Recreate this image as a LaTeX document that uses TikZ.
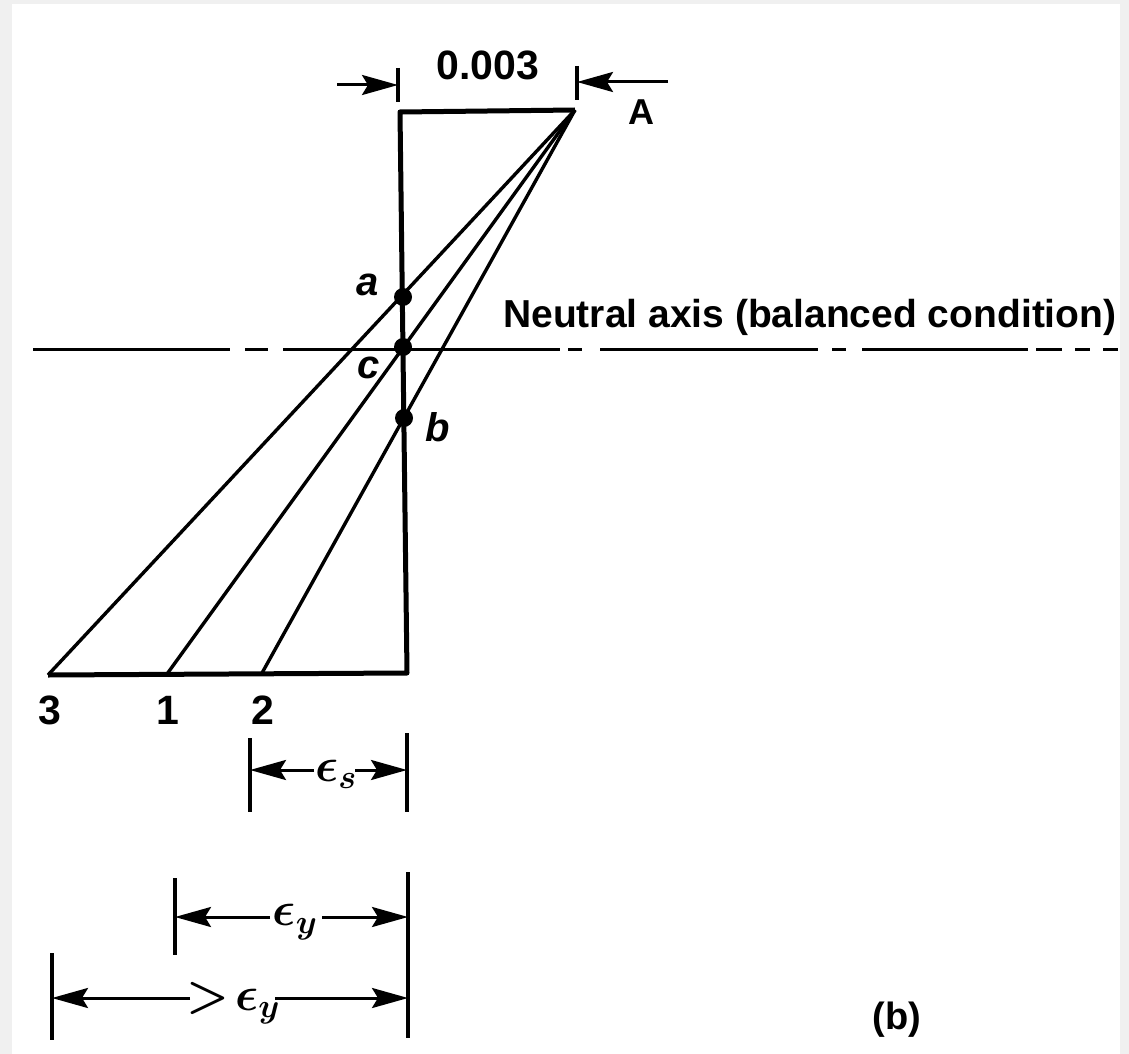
\RequirePackage{fix-cm}
\documentclass[tikz,border=0pt]{standalone}
\usepackage{fontspec}
\setmainfont{Liberation Sans}
\usetikzlibrary{arrows.meta}
\begin{document}
\begin{tikzpicture}[x=1pt,y=-1pt,
  thickline/.style={line width=5pt, line join=round},
  thinline/.style={line width=3.4pt},
  dimline/.style={line width=3pt},
  tickline/.style={line width=3.6pt},
  arr/.style={dimline,-{Stealth[length=36pt,width=20pt,inset=6pt]}},
  lbl/.style={font=\fontsize{39}{42}\selectfont\bfseries, inner sep=0pt},
  ilbl/.style={font=\fontsize{40}{44}\selectfont\bfseries\itshape, inner sep=0pt},
  eps/.style={font=\fontsize{48}{52}\selectfont\boldmath, inner sep=0pt},
  dot/.style={circle, fill, inner sep=0pt, minimum size=18pt}
]
% background
\fill[black!6] (0,0) rectangle (1129,1054);
\fill[white] (12,4) rectangle (1120,1054);
\useasboundingbox (0,0) rectangle (1129,1054);

% strain diagram
\coordinate (TL) at (400,112);
\coordinate (A) at (575,110);
\coordinate (BR) at (407,673);
\coordinate (P3) at (48,675);
\coordinate (P1) at (167,674);
\coordinate (P2) at (262,673);
\draw[thickline] (A) -- (TL) -- (BR) -- (P3);
\draw[thinline] (A) -- (P3);
\draw[thinline] (A) -- (P1);
\draw[thinline] (A) -- (P2);

% neutral axis
\coordinate (NL) at (33,349);
\coordinate (NR) at (1129,349);
\draw[line width=3pt, dash pattern=on 197pt off 15pt on 23pt off 15pt on 277pt off 8pt on 14pt off 18pt on 218pt off 14pt on 14pt off 16pt on 166pt off 8pt on 26pt off 13pt on 15pt off 13pt on 15pt off 40pt] (NL) -- (NR);
\node[lbl, anchor=base west] (nat) at (503,327) {Neutral axis (balanced condition)};

% dots and labels
\node[dot] (a) at (403,297) {};
\node[dot] (c) at (403,347) {};
\node[dot] (b) at (404,418) {};
\node[ilbl] (la) at (368,285) {a};
\node[ilbl] (lc) at (369,368) {c};
\node[ilbl] (lb) at (438,427) {b};

% top dimension
\coordinate (t1a) at (398,68); \coordinate (t1b) at (398,102);
\coordinate (t2a) at (577,66); \coordinate (t2b) at (577,100);
\draw[tickline] (t1a) -- (t1b);
\draw[tickline] (t2a) -- (t2b);
\coordinate (ta1) at (337,85); \coordinate (ta2) at (398,85);
\coordinate (tb1) at (668,82); \coordinate (tb2) at (577,82);
\draw[arr] (ta1) -- (ta2);
\draw[arr] (tb1) -- (tb2);
\node[lbl, anchor=base, font=\fontsize{41}{44}\selectfont\bfseries] (val) at (488,80) {0.003};
\node[lbl, font=\fontsize{36}{40}\selectfont\bfseries] (lA) at (641,112) {A};

% bottom labels
\node[lbl, font=\fontsize{41}{44}\selectfont\bfseries] (n3) at (50,710) {3};
\node[lbl, font=\fontsize{41}{44}\selectfont\bfseries] (n1) at (168,710) {1};
\node[lbl, font=\fontsize{41}{44}\selectfont\bfseries] (n2) at (263,710) {2};

% eps_s dimension
\coordinate (s1a) at (250,738); \coordinate (s1b) at (250,812);
\coordinate (s2a) at (407,733); \coordinate (s2b) at (407,812);
\draw[tickline] (s1a) -- (s1b);
\draw[tickline] (s2a) -- (s2b);
\node[eps] (es) at (336,774) {$\epsilon_s$};
\coordinate (sl) at (250,770); \coordinate (sr) at (407,770);
\coordinate (sls) at (314,770); \coordinate (srs) at (355,770);
\draw[arr] (sls) -- (sl);
\draw[arr] (srs) -- (sr);

% eps_y dimension
\coordinate (y1a) at (175,878); \coordinate (y1b) at (175,955);
\coordinate (y2a) at (408,872); \coordinate (y2b) at (408,1038);
\draw[tickline] (y1a) -- (y1b);
\draw[tickline] (y2a) -- (y2b);
\node[eps] (ey) at (295,922) {$\epsilon_y$};
\coordinate (yl) at (175,917); \coordinate (yr) at (408,917);
\coordinate (yls) at (270,917); \coordinate (yrs) at (322,917);
\draw[arr] (yls) -- (yl);
\draw[arr] (yrs) -- (yr);

% > eps_y dimension
\coordinate (g1a) at (52,953); \coordinate (g1b) at (52,1040);
\draw[tickline] (g1a) -- (g1b);
\node[eps] (gey) at (233,1003) {$>\!\epsilon_y$};
\coordinate (gl) at (52,998); \coordinate (gr) at (408,998);
\coordinate (gls) at (190,998); \coordinate (grs) at (275,998);
\draw[arr] (gls) -- (gl);
\draw[arr] (grs) -- (gr);

% caption
\node[lbl, font=\fontsize{38}{42}\selectfont\bfseries] (cap) at (897,1020) {(b)};
\end{tikzpicture}
\end{document}
